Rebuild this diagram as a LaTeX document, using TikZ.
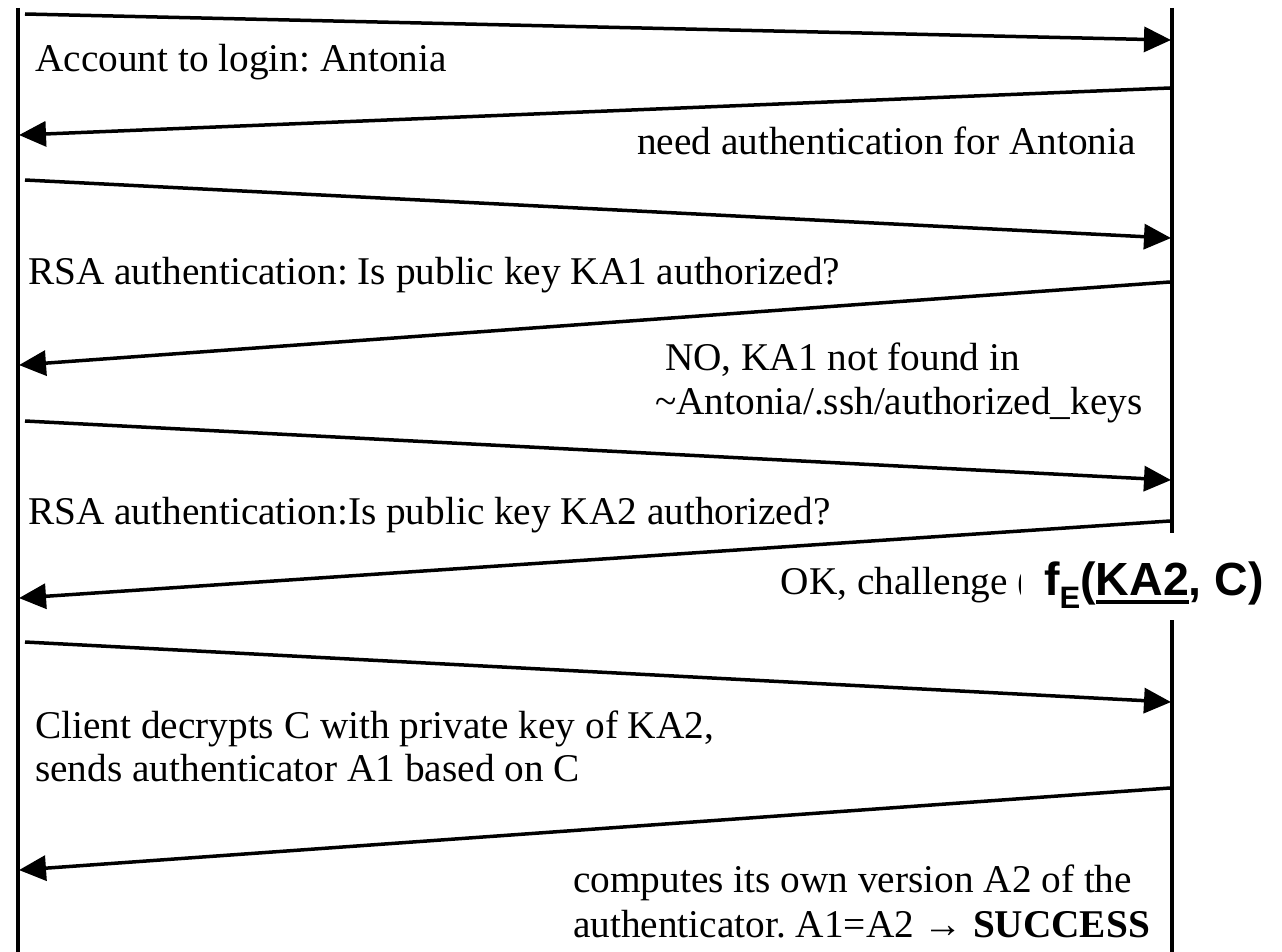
\documentclass[tikz,border=0pt]{standalone}
\usepackage{fontspec}
\setmainfont{Liberation Serif}
\newfontfamily\arialb{Liberation Sans}
\usetikzlibrary{arrows.meta}
\frenchspacing
\newcommand\myul[1]{\setbox0\hbox{#1}\rlap{\rule[-9pt]{\wd0}{4pt}}\box0}
\tikzset{
  life/.style={line width=4pt},
  msg/.style={line width=3.5pt,-{Triangle[length=27pt,width=25pt]},shorten >=-1pt},
  lbl/.style={anchor=base west,inner sep=0pt,font=\fontsize{39.3}{45}\selectfont,align=left},
}
\begin{document}
\begin{tikzpicture}[x=1pt,y=-1pt]
\useasboundingbox (0,0) rectangle (1282,952);
% lifelines
\coordinate (Ltop) at (18,8);
\coordinate (Lbot) at (18,952);
\coordinate (Rtop) at (1172,8);
\coordinate (Rbot) at (1172,952);
\draw[life] (Ltop) -- (Lbot);
\draw[life] (Rtop) -- (Rbot);
% message endpoints
\coordinate (m1s) at (25,14);   \coordinate (m1e) at (1170,40);
\coordinate (m2s) at (1170,88); \coordinate (m2e) at (20,135);
\coordinate (m3s) at (25,180);  \coordinate (m3e) at (1170,238);
\coordinate (m4s) at (1170,282);\coordinate (m4e) at (20,365);
\coordinate (m5s) at (25,421);  \coordinate (m5e) at (1170,480);
\coordinate (m6s) at (1170,521);\coordinate (m6e) at (20,598);
\coordinate (m7s) at (25,642);  \coordinate (m7e) at (1170,702);
\coordinate (m8s) at (1170,788);\coordinate (m8e) at (20,870);
\foreach \i in {1,...,8} \draw[msg] (m\i s) -- (m\i e);
% labels
\node[lbl] (t1) at (35,72) {Account to login: Antonia};
\node[lbl] (t2) at (637,155) {need authentication for Antonia};
\node[lbl] (t3) at (28,284) {RSA authentication: Is public key KA1 authorized?};
\node[lbl] (t4) at (665,370) {NO, KA1 not found in};
\node[lbl] (t4b) at (655,414) {\textasciitilde Antonia/.ssh/authorized\_keys};
\node[lbl] (t5) at (28,524) {RSA authentication:Is public key KA2 authorized?};
\node[lbl,anchor=base east] (t6) at (1031,594) {OK, challenge (};
\fill[white] (1021,533) rectangle (1282,620);
\node[anchor=base west,inner sep=0pt,font=\arialb\bfseries\fontsize{46.5}{50}\selectfont] (fe) at (1044,595)
  {f\raisebox{-13pt}{\fontsize{31}{31}\selectfont E}(\myul{KA2}, C)};
\node[lbl] (t7) at (35,738) {Client decrypts C with private key of KA2,};
\node[lbl] (t7b) at (35,781) {sends authenticator A1 based on C};
\node[lbl] (t8) at (573,892) {computes its own version A2 of the};
\node[lbl] (t8b) at (573,937) {authenticator. A1=A2 → \textbf{SUCCESS}};
\end{tikzpicture}
\end{document}
